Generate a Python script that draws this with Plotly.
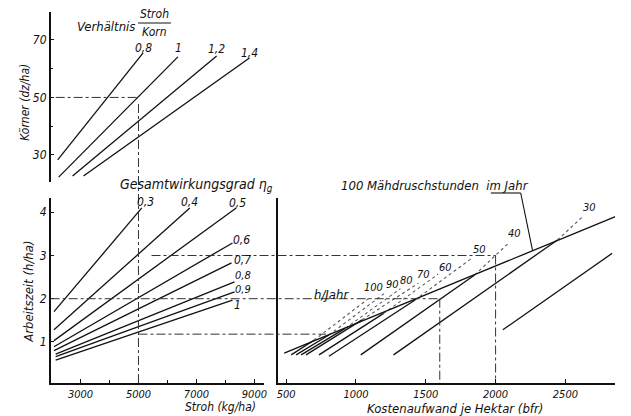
import plotly.graph_objects as go

W, H = 631, 416

# ---------------- data ----------------
# top panel: Körner (dz/ha) vs Stroh (kg/ha), one line per ratio Stroh/Korn
ratio_labels = ["0,8", "1", "1,2", "1,4"]
ratio_stroh_start = [2212, 2246, 2726, 3103]
ratio_korn_start = [28.3, 22.3, 22.7, 22.7]
ratio_stroh_end = [5160, 6360, 7697, 8828]
ratio_korn_end = [65.5, 64.1, 64.4, 63.7]
ratio_label_stroh = [5171, 6370, 7686, 8828]
ratio_label_korn = [67.3, 67.3, 66.7, 65.6]

# bottom-left panel: Arbeitszeit (h/ha) vs Stroh, one line per efficiency
eta_labels = ["0,3", "0,4", "0,5", "0,6", "0,7", "0,8", "0,9", "1"]
eta_stroh_start = [2085, 2085, 2085, 2085, 2085, 2143, 2143, 2143]
eta_h_start = [1.70, 1.28, 1.03, 0.89, 0.80, 0.72, 0.66, 0.58]
eta_stroh_end = [5115, 6771, 8372, 8245, 8211, 8314, 8314, 8245]
eta_h_end = [4.10, 4.10, 4.10, 3.29, 2.83, 2.39, 2.16, 1.97]
eta_label_stroh = [5228, 6771, 8417, 8571, 8600, 8622, 8622, 8417]
eta_label_h = [4.24, 4.24, 4.22, 3.37, 2.89, 2.54, 2.22, 1.86]

# bottom-right panel: Arbeitszeit vs Kostenaufwand, one line per h/Jahr
hours_labels = ["100", "90", "80", "70", "60", "50", "40", "30"]
hours_cost_start = [536, 571, 607, 642, 735, 806, 1034, 1269]
hours_h_start = [0.70, 0.70, 0.70, 0.70, 0.70, 0.67, 0.70, 0.70]
hours_cost_env = [699, 806, 925, 1043, 1198, 1423, 1850, 2443]
hours_h_env = [1.04, 1.16, 1.32, 1.51, 1.66, 1.97, 2.55, 3.36]
hours_cost_dot_end = [1105, 1219, 1318, 1447, 1589, 1831, 2101, 2628]
hours_h_dot_end = [2.04, 2.16, 2.23, 2.36, 2.57, 2.94, 3.31, 3.91]
hours_label_cost = [1128, 1260, 1360, 1485, 1639, 1888, 2137, 2671]
hours_label_h = [2.27, 2.33, 2.42, 2.55, 2.73, 3.13, 3.52, 4.12]

line20_cost = [2052, 2835]
line20_h = [1.28, 3.05]
line20_label = ("20", 2870, 3.28)

envelope_cost = [486, 2858]
envelope_h = [0.74, 3.90]
envelope_pointer = (2265, 3.11)

stroh_ticks = [3000, 5000, 7000, 9000]
stroh_minor = [3000, 4000, 5000, 6000, 7000, 8000, 9000]
korn_ticks = [30, 50, 70]
korn_minor = [30, 40, 50, 60, 70]
h_ticks = [1, 2, 3, 4]
cost_ticks = [500, 1000, 1500, 2000, 2500]

# example reading path (dash-dot guides)
ex_korn = 50
ex_stroh = 5000
ex_h_levels = [3, 2, 1.18]
ex_h_start_stroh = [5450, 1971, 5000]
ex_h_end_cost = [2000, 1600, 785]
ex_vert_cost = [2000, 1600]
ex_vert_top = [3, 2]

# ---------------- axes geometry ----------------
X1_DOM = [50 / W, 265 / W]; X1_RNG = [1971, 9342]
Y2_DOM = [(H - 182) / H, (H - 12) / H]; Y2_RNG = [20.6, 79.7]
Y1_DOM = [(H - 383) / H, (H - 198) / H]; Y1_RNG = [0.05, 4.33]
X3_DOM = [279 / W, 618 / W]; X3_RNG = [443, 2856]


def to_paper(v, dom, rng):
    return dom[0] + (v - rng[0]) / (rng[1] - rng[0]) * (dom[1] - dom[0])


FONT = "DejaVu Sans Condensed, Liberation Sans Narrow, DejaVu Sans"
BLACK = "#111111"
LW = 1.3

fig = go.Figure()

# top panel lines
for i in range(len(ratio_labels)):
    fig.add_trace(go.Scatter(
        x=[ratio_stroh_start[i], ratio_stroh_end[i]],
        y=[ratio_korn_start[i], ratio_korn_end[i]],
        mode="lines", line=dict(color=BLACK, width=LW),
        xaxis="x2", yaxis="y2", hoverinfo="skip"))

# eta lines
for i in range(len(eta_labels)):
    fig.add_trace(go.Scatter(
        x=[eta_stroh_start[i], eta_stroh_end[i]],
        y=[eta_h_start[i], eta_h_end[i]],
        mode="lines", line=dict(color=BLACK, width=LW),
        xaxis="x", yaxis="y", hoverinfo="skip"))

# hours lines (solid up to the envelope, dotted beyond)
for i in range(len(hours_labels)):
    fig.add_trace(go.Scatter(
        x=[hours_cost_start[i], hours_cost_env[i]],
        y=[hours_h_start[i], hours_h_env[i]],
        mode="lines", line=dict(color=BLACK, width=LW),
        xaxis="x3", yaxis="y3", hoverinfo="skip"))
    fig.add_trace(go.Scatter(
        x=[hours_cost_env[i], hours_cost_dot_end[i]],
        y=[hours_h_env[i], hours_h_dot_end[i]],
        mode="lines", line=dict(color="#555555", width=1.1, dash="dot"),
        xaxis="x3", yaxis="y3", hoverinfo="skip"))

fig.add_trace(go.Scatter(x=line20_cost, y=line20_h, mode="lines",
                         line=dict(color=BLACK, width=LW),
                         xaxis="x3", yaxis="y3", hoverinfo="skip"))
fig.add_trace(go.Scatter(x=envelope_cost, y=envelope_h, mode="lines",
                         line=dict(color=BLACK, width=LW),
                         xaxis="x3", yaxis="y3", hoverinfo="skip"))

GUIDE = dict(color="#333333", width=1, dash="dashdot")

# guide in top panel (horizontal at Körner 50)
fig.add_trace(go.Scatter(x=[2143, ex_stroh], y=[ex_korn, ex_korn], mode="lines",
                         line=GUIDE, xaxis="x2", yaxis="y2", hoverinfo="skip"))
# vertical guides in the right panel
for c, top in zip(ex_vert_cost, ex_vert_top):
    fig.add_trace(go.Scatter(x=[c, c], y=[top, Y1_RNG[0]], mode="lines",
                             line=GUIDE, xaxis="x3", yaxis="y3", hoverinfo="skip"))

shapes = []
# vertical guide at Stroh 5000 through both left panels
shapes.append(dict(type="line", xref="x", yref="paper", x0=ex_stroh, x1=ex_stroh,
                   y0=to_paper(Y1_RNG[0], Y1_DOM, Y1_RNG),
                   y1=to_paper(48, Y2_DOM, Y2_RNG), line=GUIDE))
# horizontal guides crossing from left to right panel
for hv, s0, c1 in zip(ex_h_levels, ex_h_start_stroh, ex_h_end_cost):
    yp = to_paper(hv, Y1_DOM, Y1_RNG)
    shapes.append(dict(type="line", xref="paper", yref="paper",
                       x0=to_paper(s0, X1_DOM, X1_RNG), x1=to_paper(c1, X3_DOM, X3_RNG),
                       y0=yp, y1=yp, line=GUIDE))
# fraction bar for Stroh/Korn
shapes.append(dict(type="line", xref="paper", yref="paper",
                   x0=138 / W, x1=171 / W, y0=(H - 23) / H, y1=(H - 23) / H,
                   line=dict(color=BLACK, width=1.2)))
# leader for "im Jahr" to the envelope line
ul_y = (H - 193) / H
shapes.append(dict(type="line", xref="paper", yref="paper",
                   x0=to_paper(1966, X3_DOM, X3_RNG), x1=to_paper(2180, X3_DOM, X3_RNG),
                   y0=ul_y, y1=ul_y, line=dict(color=BLACK, width=1.1)))
shapes.append(dict(type="line", xref="paper", yref="paper",
                   x0=to_paper(2180, X3_DOM, X3_RNG), y0=ul_y,
                   x1=to_paper(envelope_pointer[0], X3_DOM, X3_RNG),
                   y1=to_paper(envelope_pointer[1], Y1_DOM, Y1_RNG),
                   line=dict(color=BLACK, width=1.1)))

ann = []


def lab(text, x, y, xref, yref, size=12, **kw):
    d = dict(text=text, x=x, y=y, xref=xref, yref=yref, showarrow=False,
             font=dict(family=FONT, size=size, color=BLACK, style="italic"),
             xanchor="center", yanchor="middle")
    d.update(kw)
    ann.append(d)


for t, x, y in zip(ratio_labels, ratio_label_stroh, ratio_label_korn):
    lab(t, x, y, "x2", "y2", 12)
for t, x, y in zip(eta_labels, eta_label_stroh, eta_label_h):
    lab(t, x, y, "x", "y", 11 if t in ("0,8", "0,9") else 12)
for t, x, y in zip(hours_labels, hours_label_cost, hours_label_h):
    lab(t, x, y, "x3", "y3", 11)
lab(line20_label[0], line20_label[1], line20_label[2], "x3", "y3", 13)

# titles / captions
lab("Verhältnis", 137 / W, (H - 27) / H, "paper", "paper", 13, xanchor="right")
lab("Stroh", 154.5 / W, (H - 14) / H, "paper", "paper", 12)
lab("Korn", 154.5 / W, (H - 32) / H, "paper", "paper", 12)
lab("Körner (dz/ha)", 24 / W, (H - 102) / H, "paper", "paper", 12, textangle=-90)
lab("Arbeitszeit (h/ha)", 27 / W, (H - 292) / H, "paper", "paper", 13, textangle=-90)
lab("Stroh (kg/ha)", 221 / W, (H - 407) / H, "paper", "paper", 12)
lab("Kostenaufwand je Hektar (bfr)", 457 / W, (H - 408) / H, "paper", "paper", 13)
lab("Gesamtwirkungsgrad η<sub>g</sub>", 197 / W, (H - 185) / H, "paper", "paper", 14)
lab("100 Mähdruschstunden  im Jahr", 437 / W, (H - 185) / H, "paper", "paper", 13)
lab("h/Jahr", 333 / W, (H - 294) / H, "paper", "paper", 13)

TICKFONT = dict(family=FONT, size=11, color=BLACK, style="italic")
AXBASE = dict(showline=True, linecolor=BLACK, linewidth=1.5, showgrid=False,
              zeroline=False, tickfont=TICKFONT, ticks="inside", ticklen=4,
              tickcolor=BLACK, fixedrange=True)

fig.update_layout(
    width=W, height=H, margin=dict(l=0, r=0, t=0, b=0),
    paper_bgcolor="white", plot_bgcolor="white", showlegend=False,
    xaxis=dict(AXBASE, domain=X1_DOM, range=X1_RNG, tickvals=stroh_ticks,
               minor=dict(tickvals=stroh_minor, ticks="inside", ticklen=3, tickcolor=BLACK),
               anchor="y"),
    yaxis=dict(AXBASE, domain=Y1_DOM, range=Y1_RNG, tickvals=h_ticks, anchor="x",
               tickfont=dict(TICKFONT, size=12)),
    xaxis2=dict(domain=X1_DOM, range=X1_RNG, visible=False, anchor="y2", fixedrange=True),
    yaxis2=dict(AXBASE, domain=Y2_DOM, range=Y2_RNG, tickvals=korn_ticks,
                minor=dict(tickvals=korn_minor, ticks="inside", ticklen=3, tickcolor=BLACK),
                anchor="x2", tickfont=dict(TICKFONT, size=12)),
    xaxis3=dict(AXBASE, domain=X3_DOM, range=X3_RNG, tickvals=cost_ticks, anchor="y3"),
    yaxis3=dict(AXBASE, domain=Y1_DOM, range=Y1_RNG, showticklabels=False,
                ticks="", anchor="x3"),
    shapes=shapes, annotations=ann,
)

fig.write_html("out.html")
